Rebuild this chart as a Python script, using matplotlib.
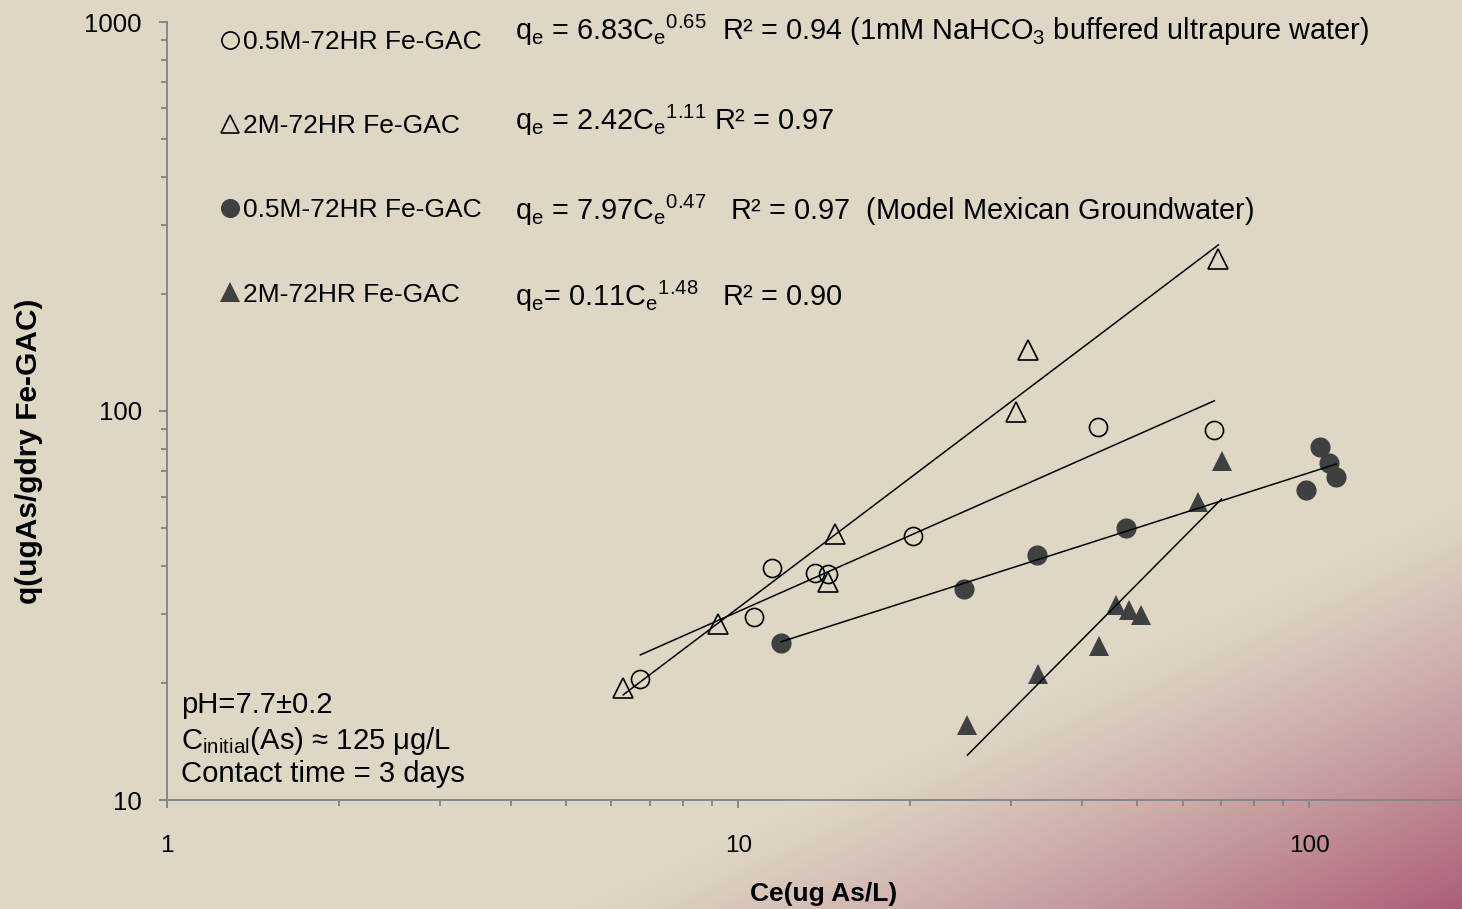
import numpy as np
import matplotlib
matplotlib.use('Agg')
import matplotlib.pyplot as plt
from matplotlib.ticker import LogLocator, NullFormatter, FuncFormatter

plt.rcParams['font.family'] = ['Liberation Sans', 'DejaVu Sans']

# Isotherm data, Ce (ug As/L) vs q (ug As / g dry Fe-GAC)
ce_pure_05 = [6.74, 10.67, 11.47, 13.64, 14.38, 20.2, 42.7, 68.2]
q_pure_05 = [20.5, 29.5, 39.5, 38.3, 38.1, 47.7, 91.0, 89.4]
ce_pure_2 = [6.29, 9.22, 14.38, 14.79, 30.7, 32.1, 69.3]
q_pure_2 = [19.4, 28.3, 36.3, 48.3, 99.4, 143.5, 245.9]
ce_gw_05 = [11.89, 24.8, 33.3, 47.8, 98.8, 104.5, 108.4, 111.5]
q_gw_05 = [25.3, 34.9, 42.6, 50.0, 62.6, 80.8, 73.5, 67.7]
ce_gw_2 = [25.2, 33.5, 42.9, 45.9, 48.4, 50.8, 63.7, 70.2]
q_gw_2 = [15.6, 21.1, 24.9, 31.7, 30.8, 29.9, 58.3, 74.4]

# Freundlich fits q = K * Ce^n
fit_k = [6.83, 2.42, 7.97, 0.11]
fit_n = [0.65, 1.11, 0.47, 1.48]
fit_r2 = [0.94, 0.97, 0.97, 0.90]

labels = ['0.5M-72HR Fe-GAC', '2M-72HR Fe-GAC', '0.5M-72HR Fe-GAC', '2M-72HR Fe-GAC']

W, H = 1462, 909
fig = plt.figure(figsize=(W / 100, H / 100), dpi=100)


def fx(px):
    return px / W


def fy(py):
    return 1 - py / H


# slide background: beige fading to rose in the lower right corner
yy, xx = np.mgrid[0:H, 0:W]
s = 0.416 * xx + 0.909 * yy
t = np.clip((s - 1060) / (1434 - 1060), 0, 1) ** 1.2
beige = np.array([222, 215, 198]) / 255
rose = np.array([172, 94, 118]) / 255
img = beige + (rose - beige) * t[..., None]
bg = fig.add_axes([0, 0, 1, 1], zorder=-10)
bg.imshow(img, aspect='auto', interpolation='bilinear')
bg.axis('off')

ax = fig.add_axes([fx(167), fy(800), 1 - fx(167), fy(22) - fy(800)])
ax.set_facecolor('none')
ax.set_xscale('log')
ax.set_yscale('log')

dark = '#404040'
series = [
    (ce_pure_05, q_pure_05, dict(marker='o', ms=13, mfc='none', mec='black', mew=1.2)),
    (ce_pure_2, q_pure_2, dict(marker='^', ms=14, mfc='none', mec='black', mew=1.2)),
    (ce_gw_05, q_gw_05, dict(marker='o', ms=14.5, mfc=dark, mec=dark, mew=0)),
    (ce_gw_2, q_gw_2, dict(marker='^', ms=15, mfc=dark, mec=dark, mew=0)),
]
handles = []
for (ce, q, style), lab in zip(series, labels):
    h, = ax.plot(ce, q, ls='none', label=lab, zorder=3, **style)
    handles.append(h)

# trendlines over each data range
for (ce, q, style), k, n in zip(series, fit_k, fit_n):
    xs = np.array([min(ce), max(ce)])
    ax.plot(xs, k * xs ** n, color='black', lw=1.1, zorder=4)

ax.set_xlim(1, 185)
ax.set_ylim(10, 1000)

for side in ['top', 'right']:
    ax.spines[side].set_visible(False)
for side in ['left', 'bottom']:
    ax.spines[side].set_color('#878787')
    ax.spines[side].set_linewidth(1.4)

fmt = FuncFormatter(lambda v, p: f'{v:g}')
for axis in [ax.xaxis, ax.yaxis]:
    axis.set_major_locator(LogLocator(base=10))
    axis.set_minor_locator(LogLocator(base=10, subs=np.arange(2, 10)))
    axis.set_major_formatter(fmt)
    axis.set_minor_formatter(NullFormatter())
ax.tick_params(which='major', direction='out', length=6, width=1.4, color='#878787',
               labelsize=17.5)
ax.tick_params(which='minor', direction='out', length=4, width=1.4, color='#878787')
ax.tick_params(axis='y', which='major', pad=12, labelsize=18.5)
ax.tick_params(axis='x', which='major', pad=19)

ax.set_xlabel('Ce(ug As/L)', fontsize=19, fontweight='bold', va='center')
ax.xaxis.set_label_coords(fx(824), fy(894), transform=fig.transFigure)
ax.set_ylabel('q(ugAs/gdry Fe-GAC)', fontsize=21.5, fontweight='bold', va='center')
ax.yaxis.set_label_coords(fx(29), fy(451), transform=fig.transFigure)

ax.legend(handles=handles, loc='upper left', bbox_to_anchor=(fx(219), fy(30)),
          bbox_transform=fig.transFigure, frameon=False, fontsize=19,
          handlelength=0.8, handletextpad=0.1, labelspacing=2.28, borderpad=0,
          markerscale=0.95, borderaxespad=0)

sub_e = r'$_\mathregular{e}$'


def sup(v):
    return r'$^\mathregular{' + f'{v:.2f}' + '}$'


equations = [
    f'q{sub_e} = {fit_k[0]:.2f}C{sub_e}{sup(fit_n[0])}  R² = {fit_r2[0]:.2f} '
    r'(1mM NaHCO$_\mathregular{3}$ buffered ultrapure water)',
    f'q{sub_e} = {fit_k[1]:.2f}C{sub_e}{sup(fit_n[1])} R² = {fit_r2[1]:.2f}',
    f'q{sub_e} = {fit_k[2]:.2f}C{sub_e}{sup(fit_n[2])}   R² = {fit_r2[2]:.2f}  '
    '(Model Mexican Groundwater)',
    f'q{sub_e}= {fit_k[3]:.2f}C{sub_e}{sup(fit_n[3])}   R² = {fit_r2[3]:.2f}',
]
for eq, base in zip(equations, [40, 130, 220, 306]):
    fig.text(fx(515), fy(base), eq, fontsize=20.8, va='baseline', ha='left')

notes = ['pH=7.7±0.2', r'C$_\mathregular{initial}$(As) ≈ 125 μg/L', 'Contact time = 3 days']
for note, base in zip(notes, [713, 749, 782]):
    fig.text(fx(181), fy(base), note, fontsize=21.1, va='baseline', ha='left')

fig.savefig('out.png', dpi=100)
